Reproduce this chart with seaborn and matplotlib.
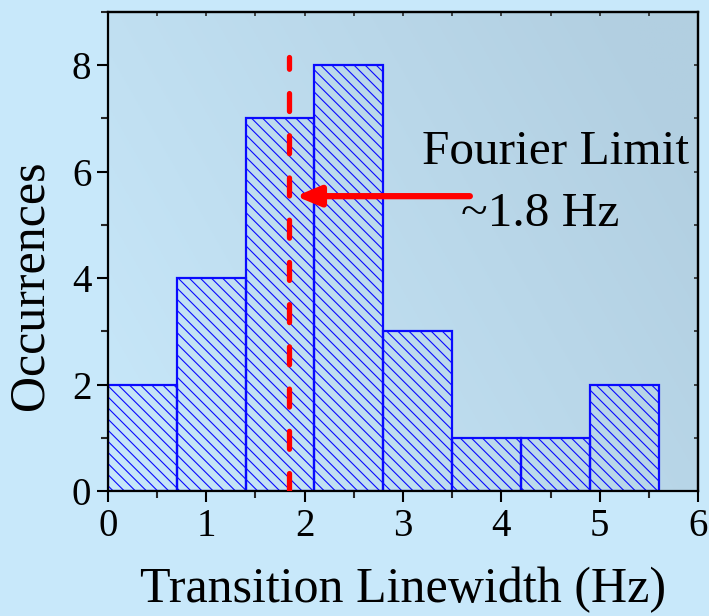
import numpy as np
import pandas as pd
import matplotlib
matplotlib.use("Agg")
import matplotlib.pyplot as plt
import seaborn as sns
from matplotlib.ticker import MultipleLocator

# ---- data ----
bin_edges = [0.0, 0.7, 1.4, 2.1, 2.8, 3.5, 4.2, 4.9, 5.6]
counts = [2, 4, 7, 8, 3, 1, 1, 2]
fourier_limit = 1.84
x_ticks = [0, 1, 2, 3, 4, 5, 6]
y_ticks = [0, 2, 4, 6, 8]
x_label = "Transition Linewidth (Hz)"
y_label = "Occurrences"
note_title = "Fourier Limit"
note_value = "~1.8 Hz"

centers = [(a + b) / 2 for a, b in zip(bin_edges[:-1], bin_edges[1:])]
df = pd.DataFrame({"width": centers, "count": counts})

sns.set_theme(style="ticks")
plt.rcParams["font.family"] = ["Liberation Serif", "DejaVu Serif"]
plt.rcParams["hatch.linewidth"] = 0.8
plt.rcParams["text.color"] = "black"
plt.rcParams["axes.labelcolor"] = "black"

fig = plt.figure(figsize=(7.09, 6.16), dpi=100)
fig.patch.set_facecolor("#c8e8fa")
ax = fig.add_axes([0.1523, 0.2029, 0.8322, 0.7776])
ax.set_facecolor("none")

# gradient background inside axes
gx = np.linspace(0, 1, 256)
gy = np.linspace(0, 1, 256)
GX, GY = np.meshgrid(gx, gy)
t = np.clip(0.75 * GX + 0.35 * GY, 0, 1)
c0 = np.array([200, 232, 250]) / 255
c1 = np.array([178, 207, 225]) / 255
img = c0[None, None, :] * (1 - t[..., None]) + c1[None, None, :] * t[..., None]
ax.imshow(img, extent=[0, 1, 0, 1], transform=ax.transAxes, origin="lower",
          aspect="auto", zorder=-10)

sns.histplot(data=df, x="width", weights="count", bins=bin_edges, ax=ax,
             element="bars", fill=True, stat="count")
for p in ax.patches:
    p.set_facecolor("none")
    p.set_edgecolor("#0a0aff")
    p.set_hatch("\\\\\\")
    p.set_linewidth(1.6)
    p.set_zorder(2)

ax.plot([fourier_limit, fourier_limit], [0, 8.15], color="#ff0000", lw=3.8,
        ls=(0, (3.4, 4.6)), dash_capstyle="round", zorder=3)

ax.annotate("", xy=(1.91, 5.54), xytext=(3.68, 5.54),
            arrowprops=dict(arrowstyle="-|>,head_length=1.2,head_width=0.5",
                            color="#ff0000", lw=4.5, shrinkA=0, shrinkB=0,
                            capstyle="round"), zorder=4)

ax.text(4.55, 6.37, note_title, ha="center", va="center", fontsize=35.5,
        color="black", zorder=5)
ax.text(4.4, 5.2, note_value, ha="center", va="center", fontsize=35.5,
        color="black", zorder=5)

ax.set_xlim(0, 6)
ax.set_ylim(0, 9)
ax.set_xticks(x_ticks)
ax.set_yticks(y_ticks)
ax.xaxis.set_minor_locator(MultipleLocator(0.5))
ax.yaxis.set_minor_locator(MultipleLocator(1))
ax.set_xlabel(x_label, fontsize=36, labelpad=16, color="black")
ax.set_ylabel(y_label, fontsize=36, color="black")
ax.yaxis.set_label_coords(-0.092, 0.43)

for s in ax.spines.values():
    s.set_linewidth(1.6)
    s.set_color("black")
    s.set_visible(True)

ax.tick_params(which="major", direction="out", length=8, width=1.5,
               labelsize=28, colors="black", pad=4)
ax.tick_params(which="minor", direction="out", length=5, width=1.5)
ax.tick_params(top=False, right=False, which="both")

sec_x = ax.secondary_xaxis("top")
sec_x.set_xticks(x_ticks)
sec_x.xaxis.set_minor_locator(MultipleLocator(0.5))
sec_x.tick_params(which="both", direction="in", length=3, width=1.2, labeltop=False)
sec_x.spines["top"].set_linewidth(1.6)
sec_y = ax.secondary_yaxis("right")
sec_y.set_yticks(y_ticks)
sec_y.yaxis.set_minor_locator(MultipleLocator(1))
sec_y.tick_params(which="both", direction="in", length=3, width=1.2, labelright=False)
sec_y.spines["right"].set_linewidth(1.6)

fig.savefig("out.png", dpi=100, facecolor=fig.get_facecolor())
